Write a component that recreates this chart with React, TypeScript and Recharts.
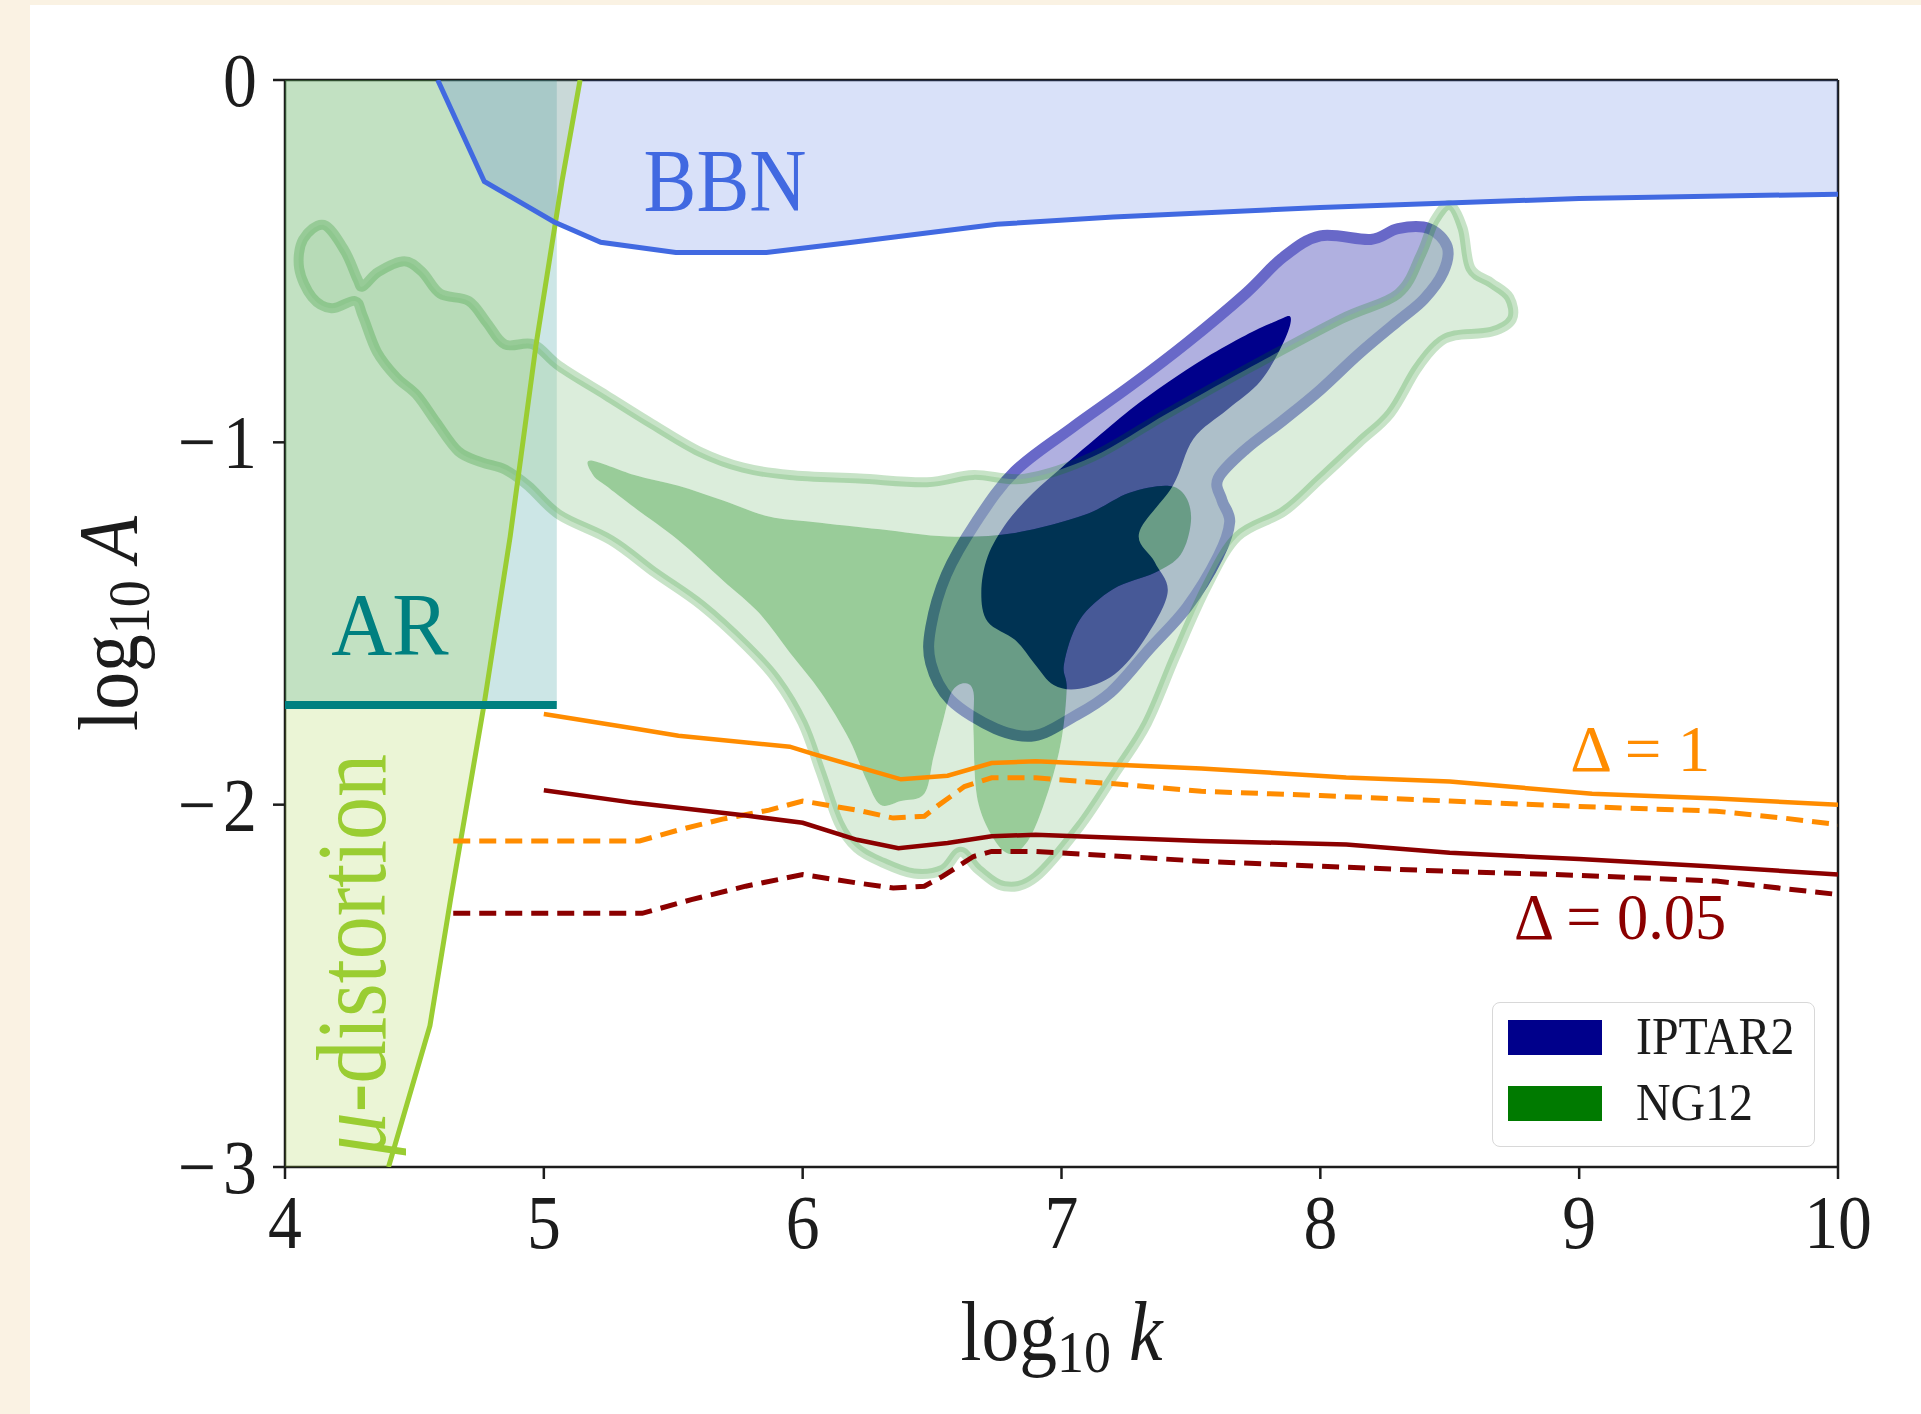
import React from 'react';
import { ComposedChart, Scatter, XAxis, YAxis, ReferenceLine, Legend } from 'recharts';

type Pair = [number, number];
type XY = { x: number; y: number };

// axes
const xTicks = [4, 5, 6, 7, 8, 9, 10];
const yTicks = [-3, -2, -1, 0];

// exclusion bounds (log10 k, log10 A)
const bbnEdge: Pair[] = [
  [4.59, 0], [4.77, -0.28], [5.04, -0.392], [5.22, -0.448], [5.51, -0.476], [5.86, -0.476],
  [6.2, -0.447], [6.75, -0.398], [7.2, -0.378], [8.0, -0.352], [9.0, -0.327], [10.0, -0.315],
];
const muEdge: Pair[] = [
  [5.14, 0], [5.07, -0.28], [4.97, -0.73], [4.87, -1.26], [4.77, -1.72], [4.64, -2.26],
  [4.56, -2.61], [4.4, -3.0],
];
const arK = 5.05;
const arA = -1.725;

// NG12 posterior contours
const ng12Outer: Pair[] = [
  [4.15, -0.4], [4.23, -0.47], [4.28, -0.55], [4.3, -0.57], [4.36, -0.53], [4.46, -0.5],
  [4.53, -0.53], [4.6, -0.59], [4.71, -0.61], [4.78, -0.67], [4.85, -0.73], [4.96, -0.73],
  [5.06, -0.79], [5.24, -0.87], [5.42, -0.95], [5.6, -1.025], [5.77, -1.07], [5.95, -1.09],
  [6.22, -1.1], [6.48, -1.11], [6.66, -1.09], [6.86, -1.1], [7.12, -1.04], [7.41, -0.92],
  [7.71, -0.8], [8.08, -0.66], [8.3, -0.59], [8.39, -0.48], [8.44, -0.39], [8.5, -0.345],
  [8.55, -0.41], [8.58, -0.52], [8.66, -0.56], [8.73, -0.6], [8.74, -0.66], [8.66, -0.695],
  [8.52, -0.705], [8.45, -0.73], [8.37, -0.8], [8.27, -0.92], [8.15, -1.0], [8.0, -1.1],
  [7.86, -1.19], [7.68, -1.26], [7.56, -1.4], [7.44, -1.59], [7.33, -1.775], [7.21, -1.91],
  [7.07, -2.06], [6.9, -2.2], [6.78, -2.225], [6.68, -2.18], [6.61, -2.13], [6.54, -2.18],
  [6.43, -2.19], [6.31, -2.16], [6.21, -2.12], [6.14, -2.05], [6.07, -1.91], [6.0, -1.775],
  [5.9, -1.655], [5.78, -1.56], [5.61, -1.45], [5.43, -1.36], [5.26, -1.27], [5.06, -1.2],
  [4.94, -1.12], [4.85, -1.075], [4.76, -1.055], [4.67, -1.025], [4.585, -0.945], [4.51, -0.87],
  [4.43, -0.82], [4.355, -0.75], [4.3, -0.65], [4.27, -0.61], [4.18, -0.63], [4.105, -0.6],
  [4.055, -0.52], [4.07, -0.44],
];
const ng12Inner: Pair[] = [
  [5.18, -1.05], [5.35, -1.09], [5.52, -1.12], [5.69, -1.16], [5.87, -1.205], [6.04, -1.22],
  [6.3, -1.24], [6.56, -1.26], [6.82, -1.25], [7.09, -1.2], [7.26, -1.14], [7.41, -1.12],
  [7.48, -1.15], [7.5, -1.22], [7.46, -1.31], [7.36, -1.36], [7.2, -1.405], [7.07, -1.49],
  [7.01, -1.61], [7.02, -1.68], [7.0, -1.82], [6.95, -1.96], [6.87, -2.1], [6.78, -2.13],
  [6.68, -2.0], [6.66, -1.8], [6.66, -1.69], [6.625, -1.665], [6.575, -1.69], [6.54, -1.775],
  [6.505, -1.87], [6.47, -1.97], [6.38, -1.99], [6.3, -2.0], [6.245, -1.93], [6.18, -1.82],
  [6.07, -1.69], [5.95, -1.58], [5.83, -1.47], [5.69, -1.38], [5.52, -1.27], [5.35, -1.18],
  [5.24, -1.12], [5.19, -1.09],
];

// IPTAR2 posterior contours
const iptarOuter: Pair[] = [
  [8.49, -0.46], [8.42, -0.41], [8.3, -0.41], [8.195, -0.44], [8.0, -0.43], [7.855, -0.49],
  [7.71, -0.59], [7.485, -0.725], [7.265, -0.845], [7.04, -0.96], [6.82, -1.08], [6.67, -1.22],
  [6.555, -1.365], [6.495, -1.51], [6.495, -1.61], [6.57, -1.71], [6.745, -1.79], [6.895, -1.81],
  [7.04, -1.76], [7.19, -1.69], [7.34, -1.57], [7.485, -1.455], [7.605, -1.315], [7.65, -1.22],
  [7.62, -1.16], [7.605, -1.1], [7.71, -1.02], [7.855, -0.94], [8.0, -0.855], [8.15, -0.755],
  [8.3, -0.665], [8.4, -0.605], [8.475, -0.53],
];
const iptarInner: Pair[] = [
  [7.885, -0.655], [7.83, -0.665], [7.71, -0.705], [7.56, -0.765], [7.41, -0.835], [7.265, -0.91],
  [7.115, -1.0], [7.0, -1.07], [6.89, -1.14], [6.79, -1.22], [6.715, -1.315], [6.69, -1.415],
  [6.715, -1.495], [6.82, -1.545], [6.895, -1.61], [6.97, -1.67], [7.07, -1.68], [7.205, -1.64],
  [7.32, -1.545], [7.41, -1.415], [7.36, -1.33], [7.3, -1.25], [7.43, -1.12], [7.51, -0.99],
  [7.64, -0.91], [7.77, -0.83], [7.86, -0.72],
];

// PBH bounds for Delta = 1 and Delta = 0.05
const delta1Solid: Pair[] = [
  [5.0, -1.75], [5.35, -1.79], [5.52, -1.81], [5.95, -1.84], [6.04, -1.86], [6.38, -1.93],
  [6.56, -1.92], [6.73, -1.885], [6.9, -1.88], [7.54, -1.9], [8.1, -1.925], [8.5, -1.936],
  [9.05, -1.97], [9.53, -1.983], [10.0, -2.0],
];
const delta1Dashed: Pair[] = [
  [4.65, -2.1], [5.37, -2.1], [5.52, -2.07], [5.69, -2.04], [5.87, -2.015], [6.0, -1.99],
  [6.21, -2.015], [6.35, -2.037], [6.47, -2.032], [6.52, -2.004], [6.625, -1.95], [6.73, -1.926],
  [6.9, -1.926], [7.25, -1.945], [7.54, -1.963], [8.0, -1.975], [8.5, -1.99], [9.0, -2.005],
  [9.53, -2.018], [9.79, -2.037], [10.0, -2.055],
];
const delta005Solid: Pair[] = [
  [5.0, -1.96], [5.35, -1.995], [5.78, -2.03], [6.0, -2.05], [6.21, -2.097], [6.37, -2.12],
  [6.56, -2.106], [6.73, -2.087], [6.9, -2.083], [7.54, -2.1], [8.1, -2.11], [8.5, -2.133],
  [9.0, -2.15], [9.5, -2.17], [10.0, -2.193],
];
const delta005Dashed: Pair[] = [
  [4.65, -2.3], [5.38, -2.3], [5.57, -2.262], [5.78, -2.225], [6.0, -2.193], [6.21, -2.216],
  [6.35, -2.23], [6.47, -2.225], [6.54, -2.198], [6.66, -2.143], [6.73, -2.129], [6.9, -2.129],
  [7.54, -2.156], [8.0, -2.17], [8.5, -2.184], [9.0, -2.195], [9.53, -2.211], [10.0, -2.248],
];

// annotation anchors
const bbnNote: Pair = [5.7, -0.36];
const arNote: Pair = [4.405, -1.585];
const muNote: Pair = [4.385, -2.414];
const d1Note: Pair = [9.236, -1.906];
const d005Note: Pair = [9.158, -2.37];

const legendItems = [
  { name: 'IPTAR2', color: '#00008b' },
  { name: 'NG12', color: '#007a00' },
];

const SERIF = '"Liberation Serif", "Times New Roman", serif';
const INK = '#1c1c1c';
const ROYAL = '#4169e1';
const TEAL = '#008080';
const YGREEN = '#9acd32';
const ORANGE = '#ff8c00';
const DARKRED = '#8b0000';

const xy = (a: Pair[]): XY[] => a.map(([x, y]) => ({ x, y }));

const bbnFill: Pair[] = [...bbnEdge, [10, 0]];
const muFill: Pair[] = [...muEdge, [4, -3], [4, 0]];
const arFill: Pair[] = [[4, 0], [arK, 0], [arK, arA], [4, arA]];
const arLine: Pair[] = [[4, arA], [arK, arA]];

const f = (v: number) => v.toFixed(1);

function smoothRing(p: XY[]) {
  const n = p.length;
  if (n < 3) return '';
  let d = `M${f(p[0].x)},${f(p[0].y)}`;
  for (let i = 0; i < n; i++) {
    const a = p[(i - 1 + n) % n];
    const b = p[i];
    const c = p[(i + 1) % n];
    const e = p[(i + 2) % n];
    d += ` C${f(b.x + (c.x - a.x) / 6)},${f(b.y + (c.y - a.y) / 6)} ${f(c.x - (e.x - b.x) / 6)},${f(c.y - (e.y - b.y) / 6)} ${f(c.x)},${f(c.y)}`;
  }
  return d + ' Z ';
}

function straightRing(p: XY[]) {
  return 'M' + p.map((q) => `${f(q.x)},${f(q.y)}`).join(' L') + ' Z ';
}

// draws closed rings from the scatter's scaled points (extra rings cut holes)
const region = (rings: number[], style: React.SVGProps<SVGPathElement>, smooth = true) =>
  (props: any) => {
    const pts: XY[] = props.points || [];
    let d = '';
    let start = 0;
    rings.forEach((len) => {
      const ring = pts.slice(start, start + len);
      d += smooth ? smoothRing(ring) : straightRing(ring);
      start += len;
    });
    return <path d={d} fillRule="evenodd" stroke="none" {...style} />;
  };

const noDot = () => <g />;

const txt = (
  x: number, y: number, size: number, color: string, children: React.ReactNode,
  opts: { sx?: number; rotate?: boolean; anchor?: 'start' | 'middle' | 'end' } = {}
) => {
  const { sx = 0.9, rotate = false, anchor = 'middle' } = opts;
  const t = `translate(${x} ${y})${rotate ? ' rotate(-90)' : ''} scale(${sx} 1)`;
  return (
    <text transform={t} textAnchor={anchor} fontFamily={SERIF} fontSize={size} fill={color}>
      {children}
    </text>
  );
};

const renderXTick = (p: any) => (
  <g>{txt(p.x, p.y + 69, 77, INK, String(p.payload.value), { sx: 0.88 })}</g>
);

const renderYTick = (p: any) => {
  const v = Number(p.payload.value);
  const body = v < 0 ? (
    <>
      <tspan>−</tspan>
      <tspan dx={8}>{Math.abs(v)}</tspan>
    </>
  ) : (
    String(v)
  );
  return <g>{txt(p.x - 16, p.y + 26, 77, INK, body, { sx: 0.88, anchor: 'end' })}</g>;
};

const renderXTitle = (props: any) => {
  const vb = props.viewBox || { x: 255, y: 1162, width: 1553, height: 200 };
  return txt(vb.x + vb.width / 2, vb.y + 193, 84, INK, (
    <>
      <tspan>log</tspan>
      <tspan fontSize={60} dy={12}>10</tspan>
      <tspan dx={20} dy={-12} fontStyle="italic">k</tspan>
    </>
  ));
};

const renderYTitle = (props: any) => {
  const vb = props.viewBox || { x: 55, y: 75, width: 200, height: 1087 };
  return txt(vb.x + 52, vb.y + vb.height / 2, 84, INK, (
    <>
      <tspan>log</tspan>
      <tspan fontSize={60} dy={12}>10</tspan>
      <tspan dx={20} dy={-12} fontStyle="italic">A</tspan>
    </>
  ), { rotate: true });
};

const renderLegend = () => (
  <div
    style={{
      boxSizing: 'border-box', position: 'relative', width: 323, height: 145,
      border: '1.5px solid #d8d8d8', borderRadius: 8, background: 'rgba(255,255,255,0.85)',
    }}
  >
    {legendItems.map((it, i) => (
      <div
        key={it.name}
        style={{ position: 'absolute', left: 15, top: 16.5 + i * 66, display: 'flex', alignItems: 'center', height: 35 }}
      >
        <div style={{ width: 94, height: 35, background: it.color }} />
        <span
          style={{
            marginLeft: 34, fontFamily: SERIF, fontSize: 52, lineHeight: 1, color: INK,
            display: 'inline-block', transform: 'scaleX(0.92)', transformOrigin: 'left center', whiteSpace: 'nowrap',
          }}
        >
          {it.name}
        </span>
      </div>
    ))}
  </div>
);

const note = (pos: Pair, draw: (x: number, y: number) => React.ReactElement) => (
  <Scatter
    data={xy([pos])}
    shape={(p: any) => draw(p.cx, p.cy)}
    isAnimationActive={false}
    legendType="none"
  />
);

const polyLine = (data: Pair[], stroke: string, width: number, dash?: string) => (
  <Scatter
    data={xy(data)}
    shape={noDot}
    line={{ stroke, strokeWidth: width, strokeDasharray: dash, fill: 'none' }}
    lineJointType="linear"
    isAnimationActive={false}
    legendType="none"
  />
);

export default function App() {
  return (
    <div style={{ position: 'absolute', left: 0, top: 0, width: 1921, height: 1414, background: '#faf2e3', overflow: 'hidden' }}>
      <div style={{ position: 'absolute', left: 30, top: 5, width: 1891, height: 1409, background: '#ffffff' }}>
        <ComposedChart width={1891} height={1409} margin={{ top: 75, right: 83, bottom: 47, left: 55 }}>
          <XAxis
            type="number" dataKey="x" domain={[4, 10]} ticks={xTicks} interval={0} allowDataOverflow
            height={200} tickSize={12} tickMargin={0}
            axisLine={{ stroke: INK, strokeWidth: 2.5 }} tickLine={{ stroke: INK, strokeWidth: 2.5 }}
            tick={renderXTick} label={{ content: renderXTitle }}
          />
          <YAxis
            type="number" dataKey="y" domain={[-3, 0]} ticks={yTicks} interval={0} allowDataOverflow
            width={200} tickSize={12} tickMargin={0}
            axisLine={{ stroke: INK, strokeWidth: 2.5 }} tickLine={{ stroke: INK, strokeWidth: 2.5 }}
            tick={renderYTick} label={{ content: renderYTitle }}
          />

          {/* exclusion regions */}
          <Scatter data={xy(arFill)} shape={noDot} isAnimationActive={false} legendType="none"
            line={region([arFill.length], { fill: 'rgba(0,128,128,0.2)' }, false)} />
          <Scatter data={xy(muFill)} shape={noDot} isAnimationActive={false} legendType="none"
            line={region([muFill.length], { fill: 'rgba(154,205,50,0.2)' }, false)} />
          <Scatter data={xy(bbnFill)} shape={noDot} isAnimationActive={false} legendType="none"
            line={region([bbnFill.length], { fill: 'rgba(65,105,225,0.2)' }, false)} />

          {/* IPTAR2 */}
          <Scatter data={xy(iptarOuter)} shape={noDot} isAnimationActive={false} legendType="none"
            line={region([iptarOuter.length], { fill: '#b0b0e0' })} />
          <Scatter data={xy(iptarInner)} shape={noDot} isAnimationActive={false} legendType="none"
            line={region([iptarInner.length], { fill: '#00008b' })} />
          <Scatter data={xy(iptarOuter)} shape={noDot} isAnimationActive={false} legendType="none"
            line={region([iptarOuter.length], { fill: 'none', stroke: '#6868c8', strokeWidth: 11 })} />

          {/* NG12 */}
          <Scatter data={xy([...ng12Outer, ...ng12Inner])} shape={noDot} isAnimationActive={false} legendType="none"
            line={region([ng12Outer.length, ng12Inner.length], { fill: 'rgba(170,212,170,0.42)' })} />
          <Scatter data={xy(ng12Inner)} shape={noDot} isAnimationActive={false} legendType="none"
            line={region([ng12Inner.length], { fill: 'rgba(0,128,0,0.4)' })} />
          <Scatter data={xy(ng12Outer)} shape={noDot} isAnimationActive={false} legendType="none"
            line={region([ng12Outer.length], { fill: 'none', stroke: 'rgba(0,128,0,0.22)', strokeWidth: 10 })} />

          {/* bounds */}
          {polyLine(muEdge, YGREEN, 5)}
          {polyLine(bbnEdge, ROYAL, 5)}
          {polyLine(arLine, TEAL, 8)}
          {polyLine(delta1Solid, ORANGE, 4.5)}
          {polyLine(delta1Dashed, ORANGE, 5, '17 9')}
          {polyLine(delta005Solid, DARKRED, 4.5)}
          {polyLine(delta005Dashed, DARKRED, 5, '17 9')}

          {/* labels */}
          {note(bbnNote, (x, y) => txt(x, y, 88, ROYAL, 'BBN', { sx: 0.9 }))}
          {note(arNote, (x, y) => txt(x, y, 88, TEAL, 'AR', { sx: 0.96 }))}
          {note(muNote, (x, y) => txt(x, y, 100, YGREEN, (
            <>
              <tspan fontStyle="italic">μ</tspan>
              <tspan>-distortion</tspan>
            </>
          ), { sx: 0.86, rotate: true }))}
          {note(d1Note, (x, y) => txt(x, y, 65, ORANGE, 'Δ = 1', { sx: 1 }))}
          {note(d005Note, (x, y) => txt(x, y, 65, DARKRED, 'Δ = 0.05', { sx: 0.96 }))}

          <ReferenceLine y={0} stroke={INK} strokeWidth={2.5} />
          <ReferenceLine x={10} stroke={INK} strokeWidth={2.5} />

          <Legend
            layout="horizontal" align="center" verticalAlign="middle" width={323} height={145}
            wrapperStyle={{ left: 1462, top: 997, width: 323, height: 145 }}
            content={renderLegend}
          />
        </ComposedChart>
      </div>
    </div>
  );
}
